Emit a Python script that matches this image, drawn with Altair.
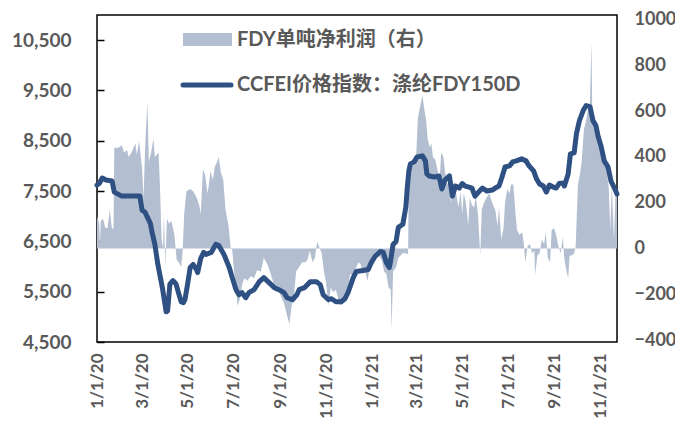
import altair as alt
import pandas as pd

# ---------------- data ----------------
# CCFEI price index (left axis): day offset from 2020-01-01, value
price_day = [0, 3, 7, 12, 20, 23, 28, 33, 57, 60,
             64, 67, 71, 73, 77, 81, 87, 91, 92, 94,
             97, 101, 105, 108, 112, 115, 117, 120, 124, 128,
             132, 134, 138, 142, 145, 152, 158, 162, 169, 176,
             180, 185, 189, 193, 198, 202, 209, 216, 222, 229,
             236, 242, 249, 253, 260, 266, 269, 276, 284, 292,
             297, 301, 308, 312, 318, 325, 330, 334, 341, 345,
             354, 361, 365, 370, 377, 381, 385, 389, 391, 394,
             398, 401, 407, 411, 413, 415, 417, 422, 426, 433,
             437, 439, 442, 449, 455, 459, 463, 469, 470, 473,
             477, 482, 486, 490, 495, 499, 503, 509, 513, 519,
             526, 530, 535, 539, 543, 549, 553, 558, 565, 571,
             575, 581, 585, 589, 594, 598, 602, 607, 611, 615,
             621, 622, 627, 630, 635, 638, 642, 647, 651, 656,
             660, 664, 667, 671, 675, 680, 684, 688, 692]
price_value = [7620, 7650, 7760, 7720, 7700, 7480, 7440, 7400, 7400, 7120,
               7080, 6980, 6860, 6700, 6440, 6040, 5580, 5200, 5100, 5120,
               5650, 5720, 5660, 5500, 5300, 5280, 5340, 5600, 5980, 6040,
               5950, 5880, 6160, 6280, 6240, 6280, 6440, 6420, 6240, 5980,
               5780, 5540, 5440, 5480, 5380, 5480, 5540, 5700, 5780, 5680,
               5580, 5540, 5480, 5380, 5340, 5440, 5540, 5580, 5700, 5700,
               5640, 5440, 5340, 5360, 5300, 5300, 5360, 5480, 5780, 5900,
               5920, 5940, 6080, 6200, 6300, 6280, 6080, 5980, 6140, 6440,
               6500, 6780, 6840, 7180, 7580, 7900, 8040, 8080, 8180, 8200,
               8100, 7840, 7800, 7780, 7800, 7540, 7720, 7800, 7700, 7400,
               7600, 7560, 7650, 7600, 7580, 7560, 7400, 7500, 7560, 7500,
               7520, 7560, 7600, 7780, 7980, 8000, 8080, 8100, 8140, 8100,
               8000, 7900, 7740, 7640, 7600, 7480, 7620, 7580, 7560, 7650,
               7660, 7600, 7840, 8240, 8260, 8640, 8900, 9100, 9200, 9180,
               8900, 8800, 8580, 8380, 8100, 7980, 7700, 7580, 7440]

# FDY net profit per ton (right axis)
profit_day = [0, 3, 4, 5, 8, 11, 14, 17, 20, 22,
              23, 28, 33, 36, 40, 42, 46, 51, 53, 56,
              60, 62, 64, 67, 69, 72, 75, 77, 82, 84,
              86, 88, 89, 91, 93, 96, 99, 103, 106, 109,
              112, 114, 116, 119, 124, 128, 133, 136,
              138, 141, 144, 147, 149, 151, 154, 157, 160, 162,
              165, 168, 171, 175, 178, 180, 182, 185, 187, 190,
              193, 196, 200, 205, 209, 213, 218, 222, 225, 227,
              231, 234, 238, 241, 245, 249, 252, 256, 259, 262,
              265, 269, 273,
              277, 280, 283, 287, 290, 293, 296, 299, 302, 305,
              308, 311, 314, 318, 321, 324, 328, 331, 334, 337,
              341, 344, 348, 351, 353, 356, 360, 362, 365, 368,
              372, 375, 379, 382, 385, 388, 391, 392, 394, 398,
              401, 404, 407, 411, 414,
              415, 419, 423, 425, 427, 430, 433, 436, 438, 440,
              443, 445, 447, 450, 454, 456, 458, 461, 463, 466,
              469, 471, 474, 476, 478, 481, 484, 486, 488, 491,
              494, 496, 499, 502, 504, 507, 510, 512, 515, 518,
              522, 525, 527, 530, 533, 535, 538, 541, 543, 546,
              549, 551,
              554, 557, 559, 562, 566, 568, 570, 573, 576, 579,
              582, 583, 586, 589, 592, 595, 597, 600, 603, 605,
              608, 611, 614, 617, 620, 622, 625, 627, 629, 632,
              635, 637, 640, 643, 645, 648, 651, 653, 656, 658,
              659, 662, 664, 668, 670, 673, 676, 678, 681, 683,
              685, 688, 690, 692]
profit_value = [140, 110, 15, 120, 130, 90, 90, 170, 85, 90,
                440, 440, 450, 420, 430, 400, 420, 460, 410, 470,
                350, 220, 440, 640, 380, 420, 480, 400, 420, 250,
                40, 0, 150, -80, 130, 110, 120, 60, -50, -60,
                -80, -10, 150, 250, 260, 250, 220, 190,
                150, 345, 320, 240, 280, 340, 300, 360, 380, 400,
                330, 300, 170, 100, 0, -5, -90, -170, -250, -220,
                -160, -130, -140, -120, -130, -95, -100, -40, -60, -70,
                -110, -140, -190, -180, -210, -240, -280, -330, -250, -210,
                -100, -80, -60,
                -60, -50, -10, -60, -40, 30, 5, -20, -100, -150,
                -250, -170, -190, -180, -220, -250, -230, -210, -170, -110,
                -120, -90, -60, -70, -110, -90, -140, -100, -60, -70,
                -40, -30, -50, -100, -110, -170, -180, -360, -100, -80,
                -40, -30, -20, -20, -25,
                340, 360, 380, 420, 570, 620, 670, 600, 560, 480,
                440, 460, 400, 390, 330, 300, 420, 400, 340, 280,
                300, 200, 280, 290, 240, 180, 250, 150, 240, 200,
                100, 220, 190, 180, 230, 150, -30, 170, 200, 220,
                240, 210, 190, 170, 100, 180, 40, 90, 200, 260,
                240, 280,
                280, 150, 80, 60, 70, 20, -60, 10, 20, -20,
                -10, -115, -30, -20, 40, 20, 70, -40, -60, 80,
                90, 60, 10, -20, 50, -50, -100, -130, -30, -30,
                -20, 10, 280, 330, 380, 520, 560, 600, 640, 900,
                620, 570, 510, 490, 430, 440, 390, 340, 270, 80,
                280, 40, 240, 260]

tick_dates = ["2020-01-01", "2020-03-01", "2020-05-01", "2020-07-01",
              "2020-09-01", "2020-11-01", "2021-01-01", "2021-03-01",
              "2021-05-01", "2021-07-01", "2021-09-01", "2021-11-01"]
x_range = ["2020-01-01", "2021-11-23"]
left_ticks = [4500, 5500, 6500, 7500, 8500, 9500, 10500]
left_range = [4500, 11000]
right_ticks = [-400, -200, 0, 200, 400, 600, 800, 1000]
right_range = [-408, 1020]
legend_labels = ["FDY单吨净利润（右）", "CCFEI价格指数：涤纶FDY150D"]

# ---------------- tables ----------------
start = pd.Timestamp("2020-01-01")
price_df = pd.DataFrame({
    "date": (start + pd.to_timedelta(price_day, unit="D")).strftime("%Y-%m-%d"),
    "price": price_value,
})
profit_df = pd.DataFrame({
    "date": (start + pd.to_timedelta(profit_day, unit="D")).strftime("%Y-%m-%d"),
    "profit": profit_value,
})


def dt(s):
    t = pd.Timestamp(s)
    return alt.DateTime(year=t.year, month=t.month, date=t.day, utc=True)


AREA_COLOR = "#B3BFD1"
LINE_COLOR = "#2F5082"
TEXT_COLOR = "#595959"
FONT = "Lato, 'Noto Sans CJK SC'"

x_enc = alt.X(
    "date:T",
    scale=alt.Scale(type="utc", domain=[dt(x_range[0]), dt(x_range[1])], nice=False),
    axis=alt.Axis(
        values=[dt(d) for d in tick_dates],
        format="%-m/%-d/%y",
        labelAngle=-90,
        labelPadding=11,
        labelFontSize=17,
        labelFlush=False,
        labelOverlap=False,
        ticks=False,
        domain=False,
        grid=False,
        title=None,
    ),
)

area = alt.Chart(profit_df).mark_area(color=AREA_COLOR, opacity=1).encode(
    x=x_enc,
    y=alt.Y(
        "profit:Q",
        scale=alt.Scale(domain=right_range, nice=False, zero=False),
        axis=alt.Axis(
            orient="right", values=right_ticks, format="d", title=None,
            grid=False, domain=False, ticks=False, labelPadding=17,
            labelFontSize=18,
        ),
    ),
    y2=alt.datum(0),
)

line = alt.Chart(price_df).mark_line(
    color=LINE_COLOR, strokeWidth=5, strokeJoin="round", strokeCap="round"
).encode(
    x=x_enc,
    y=alt.Y(
        "price:Q",
        scale=alt.Scale(domain=left_range, nice=False, zero=False),
        axis=alt.Axis(
            orient="left", values=left_ticks, format=",.0f", title=None,
            grid=False, domain=False, offset=-7, tickSize=7,
            tickColor="black", tickWidth=1.5, labelPadding=26,
        ),
    ),
)

one = alt.Data(values=[{"k": 0}])

leg_rect = alt.Chart(one).mark_rect(color=AREA_COLOR).encode(
    x=alt.value(86), x2=alt.value(135), y=alt.value(18), y2=alt.value(31)
)
leg_text1 = alt.Chart(one).mark_text(
    align="left", baseline="middle", font=FONT, fontSize=20,
    fontWeight="bold", color=TEXT_COLOR,
).encode(x=alt.value(140), y=alt.value(25), text=alt.value(legend_labels[0]))
leg_rule = alt.Chart(one).mark_rule(
    color=LINE_COLOR, strokeWidth=5, strokeCap="round"
).encode(x=alt.value(86), x2=alt.value(134), y=alt.value(70))
leg_text2 = alt.Chart(one).mark_text(
    align="left", baseline="middle", font=FONT, fontSize=20,
    fontWeight="bold", color=TEXT_COLOR,
).encode(x=alt.value(140), y=alt.value(70), text=alt.value(legend_labels[1]))

chart = (
    alt.layer(area, line, leg_rect, leg_text1, leg_rule, leg_text2)
    .resolve_scale(y="independent")
    .properties(
        width=520,
        height=327,
        autosize=alt.AutoSizeParams(type="none"),
        padding={"left": 89, "top": 7, "right": 58, "bottom": 80},
    )
    .configure_view(stroke="black", strokeWidth=1.5)
    .configure_axis(
        labelFont="Lato", labelFontSize=19, labelFontWeight="bold",
        labelColor=TEXT_COLOR,
    )
)

chart.save("out.html", embed_options={"renderer": "svg", "actions": False})
